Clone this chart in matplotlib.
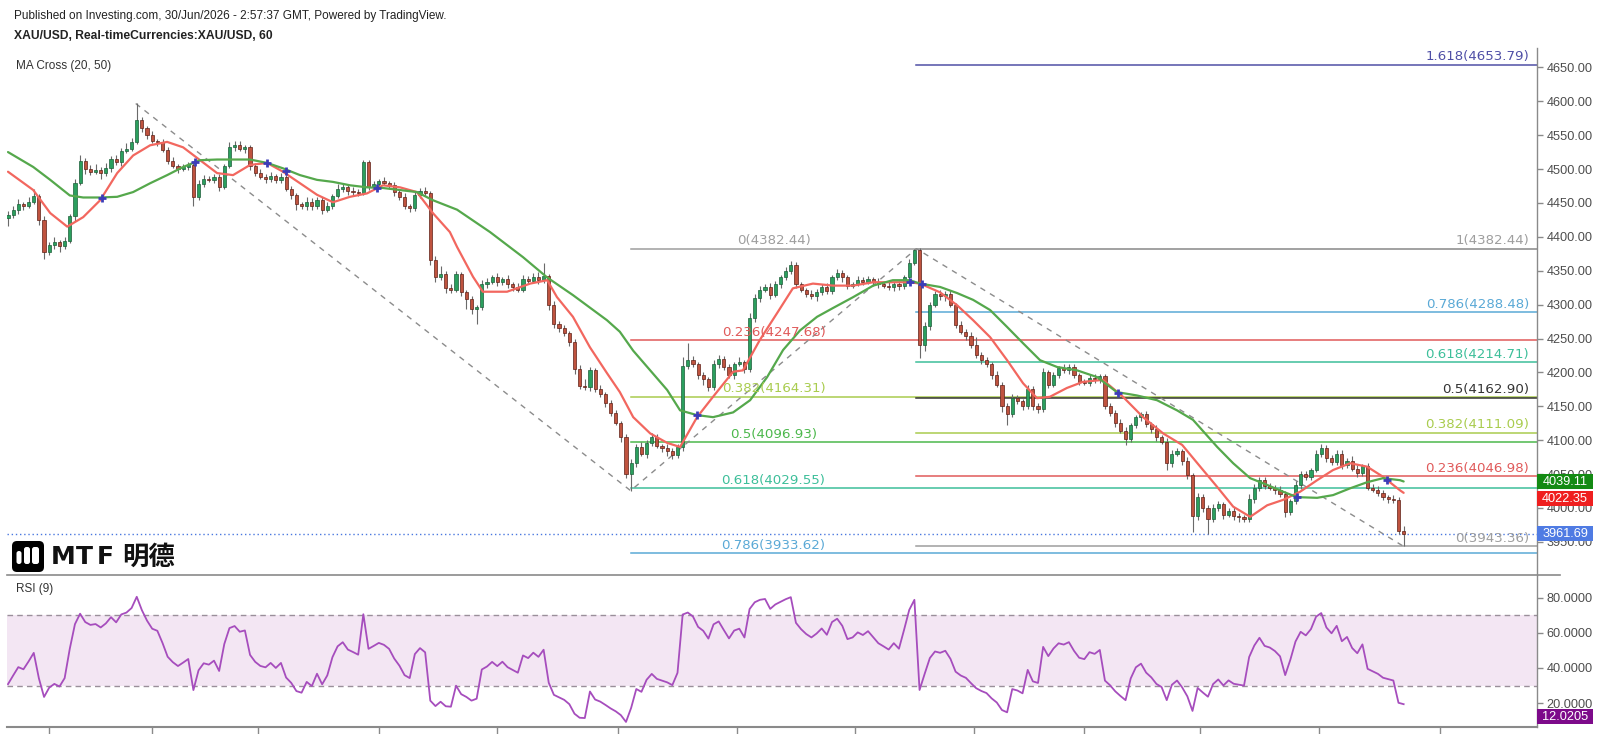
import numpy as np
import matplotlib
matplotlib.use("Agg")
import matplotlib.pyplot as plt
from matplotlib.patches import Rectangle, FancyBboxPatch
from matplotlib.transforms import blended_transform_factory

# ---------------- data (hourly XAU/USD) ----------------
closes = [
    4432, 4440, 4448, 4445, 4452, 4460, 4425, 4378, 4388, 4392, 4386, 4394, 4430, 4480, 4512, 4500, 4496, 4498, 4494, 4502,
    4515, 4510, 4526, 4530, 4540, 4572, 4560, 4550, 4542, 4540, 4528, 4512, 4505, 4500, 4503, 4506, 4458, 4478, 4486, 4484,
    4488, 4474, 4505, 4532, 4536, 4530, 4532, 4504, 4494, 4488, 4486, 4490, 4484, 4488, 4470, 4462, 4448, 4445, 4452, 4446,
    4454, 4440, 4446, 4460, 4470, 4474, 4468, 4466, 4464, 4510, 4474, 4478, 4482, 4480, 4476, 4466, 4458, 4446, 4442, 4462,
    4468, 4464, 4366, 4340, 4345, 4324, 4322, 4345, 4318, 4308, 4294, 4296, 4330, 4334, 4340, 4333, 4338, 4330, 4326, 4322,
    4338, 4335, 4340, 4336, 4342, 4300, 4272, 4265, 4258, 4245, 4205, 4180, 4178, 4203, 4176, 4168, 4155, 4140, 4126, 4105,
    4050, 4066, 4090, 4080, 4096, 4104, 4092, 4088, 4084, 4078, 4090, 4210, 4218, 4212, 4196, 4190, 4178, 4212, 4220, 4208,
    4196, 4212, 4216, 4205, 4280, 4310, 4322, 4326, 4314, 4330, 4340, 4350, 4358, 4330, 4322, 4316, 4312, 4318, 4326, 4320,
    4340, 4346, 4340, 4328, 4330, 4336, 4334, 4338, 4334, 4330, 4328, 4326, 4330, 4327, 4340, 4362, 4380, 4240, 4268, 4300,
    4315, 4312, 4316, 4300, 4270, 4260, 4254, 4240, 4226, 4218, 4212, 4196, 4182, 4150, 4138, 4162, 4158, 4150, 4176, 4150,
    4146, 4200, 4182, 4196, 4206, 4204, 4208, 4196, 4186, 4184, 4192, 4190, 4194, 4150, 4140, 4126, 4114, 4102, 4122, 4134,
    4138, 4124, 4116, 4104, 4098, 4066, 4080, 4084, 4070, 4048, 3988, 4016, 4000, 3984, 4000, 4006, 3990, 3996, 3988, 3986,
    3984, 4014, 4030, 4042, 4032, 4030, 4026, 4020, 3994, 4010, 4034, 4050, 4046, 4056, 4080, 4088, 4074, 4068, 4080, 4064,
    4070, 4058, 4052, 4062, 4030, 4026, 4022, 4016, 4014, 4012, 3966, 3961.69,
]
first_open = 4428.0
wick_up = [
    6, 5, 8, 4, 6, 10, 3, 6, 5, 7, 4, 6, 3, 5, 8, 4, 6, 9, 5, 7,
    4, 6, 5, 8, 6, 25, 5, 4, 6, 3, 5, 4, 6, 3, 5, 4, 3, 6, 5, 4,
    5, 4, 3, 8, 6, 5, 4, 3, 5, 6, 4, 5, 3, 6, 4, 5, 3, 4, 6, 5,
    4, 5, 6, 3, 8, 5, 4, 6, 5, 4, 3, 5, 4, 6, 3, 5, 4, 6, 3, 5,
    4, 6, 3, 5, 12, 4, 6, 5, 3, 4, 5, 3, 6, 5, 4, 6, 3, 5, 4, 6,
    5, 4, 6, 8, 20, 3, 6, 4, 5, 3, 4, 6, 10, 5, 4, 6, 3, 5, 4, 3,
    4, 6, 5, 8, 4, 6, 5, 3, 6, 4, 5, 12, 25, 6, 4, 5, 3, 6, 5, 4,
    5, 4, 6, 3, 8, 6, 5, 4, 6, 5, 4, 6, 7, 5, 4, 3, 6, 5, 4, 6,
    4, 6, 5, 3, 4, 6, 5, 4, 3, 5, 4, 6, 3, 5, 4, 6, 2.4, 3, 6, 4,
    5, 6, 4, 5, 3, 6, 4, 5, 12, 4, 5, 3, 6, 4, 5, 6, 4, 3, 5, 4,
    5, 6, 4, 5, 3, 6, 4, 5, 3, 4, 6, 5, 4, 3, 5, 4, 6, 5, 4, 3,
    4, 5, 3, 6, 4, 5, 6, 4, 3, 5, 4, 6, 5, 4, 6, 5, 3, 4, 6, 5,
    4, 6, 5, 4, 3, 5, 4, 6, 5, 4, 6, 5, 4, 3, 6, 7, 5, 4, 6, 5,
    4, 6, 5, 3, 4, 5, 6, 4, 3, 5, 4, 8,
]
wick_dn = [
    12, 4, 6, 5, 3, 4, 8, 10, 5, 6, 8, 4, 3, 6, 4, 7, 5, 4, 8, 5,
    6, 4, 5, 3, 4, 3, 6, 5, 4, 6, 3, 5, 4, 6, 3, 5, 12, 4, 5, 3,
    4, 6, 3, 4, 5, 3, 6, 5, 4, 3, 6, 5, 4, 5, 3, 6, 8, 4, 5, 6,
    5, 6, 4, 5, 3, 4, 6, 5, 4, 3, 5, 4, 6, 3, 5, 6, 4, 5, 6, 4,
    5, 4, 8, 6, 4, 7, 5, 4, 6, 14, 8, 22, 4, 5, 3, 6, 4, 5, 6, 4,
    4, 5, 3, 6, 4, 8, 6, 5, 4, 6, 8, 5, 4, 6, 5, 4, 6, 5, 4, 8,
    6, 24.4, 5, 4, 6, 5, 3, 6, 8, 5, 4, 6, 5, 4, 6, 8, 5, 4, 6, 5,
    4, 5, 3, 6, 4, 5, 6, 4, 5, 3, 6, 4, 5, 6, 4, 5, 3, 6, 4, 5,
    5, 4, 6, 5, 4, 3, 5, 4, 6, 5, 3, 4, 6, 5, 4, 3, 4, 19, 8, 5,
    4, 5, 6, 4, 5, 3, 6, 4, 5, 6, 4, 5, 3, 8, 16, 4, 5, 6, 4, 5,
    6, 4, 5, 3, 4, 5, 6, 4, 5, 3, 4, 5, 6, 4, 5, 6, 4, 9, 5, 4,
    5, 4, 6, 5, 4, 10, 5, 4, 6, 5, 23, 5, 6, 22, 4, 5, 6, 4, 5, 6,
    5, 4, 6, 5, 4, 3, 5, 4, 8, 5, 4, 6, 5, 4, 3, 5, 6, 4, 5, 6,
    5, 4, 6, 5, 4, 3, 5, 4, 6, 5, 4, 18.33,
]

# moving averages (bar position, value)
ma20_idx = [0, 4.9, 8.2, 11.5, 14.6, 17.9, 21.2, 24.3, 27.6, 30.9, 34.0, 37.3, 40.6, 43.7, 47.0, 50.3, 53.4, 56.7, 60.0, 63.1,
            66.4, 69.7, 72.8, 76.1, 79.4, 82.5, 85.8, 87.2, 90.3, 92.2, 96.9, 101.4, 104.7, 106.6, 109.7, 113.0, 116.3, 118.8, 121.4, 124.7,
            128.0, 130.5, 133.8, 136.9, 140.8, 142.7, 146.0, 149.3, 152.4, 156.3, 160.2, 164.1, 168.0, 171.8, 175.1, 177.1, 181.0, 184.3, 187.4, 190.7,
            194.0, 197.1, 199.8, 202.3, 205.6, 208.7, 212.6, 216.5, 220.4, 224.3, 228.0, 231.5, 234.8, 237.9, 241.2, 244.5, 247.6, 250.9, 254.2, 257.3,
            260.6, 263.9, 267.0, 270.3, 271.0]
ma20_val = [4496, 4469, 4435, 4415, 4429, 4454, 4494, 4520, 4535, 4540, 4532, 4513, 4494, 4491, 4506, 4509, 4496, 4479, 4462, 4451,
            4459, 4464, 4476, 4473, 4466, 4435, 4407, 4385, 4341, 4319, 4319, 4331, 4336, 4311, 4282, 4237, 4199, 4171, 4134, 4110,
            4096, 4090, 4134, 4164, 4201, 4203, 4248, 4287, 4324, 4331, 4328, 4328, 4333, 4333, 4333, 4331, 4318, 4299, 4277, 4252,
            4218, 4184, 4162, 4164, 4177, 4186, 4189, 4164, 4134, 4110, 4093, 4061, 4031, 4002, 3987, 4004, 4012, 4024, 4041, 4056,
            4066, 4061, 4046, 4026, 4022.35]
ma50_idx = [0, 4.9, 8.2, 12.0, 14.6, 17.9, 21.2, 24.3, 27.6, 30.9, 34.0, 37.3, 40.6, 43.7, 47.0, 50.3, 53.4, 56.7, 60.0, 63.1,
            66.4, 69.7, 72.8, 76.1, 79.4, 82.5, 87.2, 93.6, 100.0, 104.7, 109.7, 116.3, 118.8, 121.4, 124.7, 128.0, 130.5, 133.8, 136.9, 140.8,
            144.1, 147.4, 150.5, 153.8, 157.1, 160.2, 164.1, 168.0, 171.8, 175.1, 177.1, 181.0, 184.3, 187.4, 190.7, 194.0, 197.1, 200.4, 203.7, 207.6,
            211.5, 215.3, 219.2, 223.1, 227.0, 230.1, 234.8, 237.9, 241.2, 244.5, 247.6, 250.3, 254.2, 257.3, 260.6, 263.9, 267.0, 270.3, 271.0]
ma50_val = [4525, 4503, 4484, 4461, 4458, 4458, 4459, 4466, 4479, 4491, 4503, 4513, 4514, 4514, 4514, 4509, 4501, 4491, 4484, 4481,
            4476, 4473, 4472, 4469, 4466, 4454, 4440, 4407, 4370, 4340, 4314, 4277, 4260, 4232, 4203, 4174, 4144, 4137, 4134, 4141,
            4159, 4193, 4233, 4262, 4282, 4295, 4311, 4328, 4336, 4336, 4331, 4326, 4317, 4307, 4292, 4267, 4243, 4218, 4208, 4203,
            4193, 4171, 4166, 4159, 4144, 4130, 4090, 4066, 4044, 4034, 4024, 4016, 4015, 4019, 4029, 4038, 4044, 4041, 4039.11]
cross_idx = [18.3, 36.3, 50.3, 54.0, 71.7, 133.8, 175.1, 177.5, 215.5, 250.3, 267.8]
cross_val = [4457, 4510, 4509, 4497, 4472, 4137, 4333, 4331, 4169, 4016, 4041]

# swing points used by the drawings (bar position, price)
swing_idx = [24.8, 120.9, 176.4, 271.0]
swing_val = [4596.59, 4025.57, 4382.44, 3943.36]
left_fib_ratios = [0, 0.236, 0.382, 0.5, 0.618, 0.786]
right_fib_ratios = [0, 0.236, 0.382, 0.5, 0.618, 0.786, 1, 1.618]

price_ticks = [3950, 4000, 4050, 4100, 4150, 4200, 4250, 4300, 4350, 4400, 4450, 4500, 4550, 4600, 4650]
rsi_ticks = [20, 40, 60, 80]
day_ticks = [8, 28, 48.5, 72, 95, 118.5, 141.5, 164.5, 187.5, 209, 231.5, 254.5, 278]

ma50_last = 4039.11
ma20_last = 4022.35
last_close = 3961.69
rsi_last = 12.0205
rsi_period = 9
rsi_seed_gain, rsi_seed_loss = 4.0, 9.0   # estimated state before the first bar

# ---------------- derived ----------------
c = np.array(closes, float)
o = np.array([first_open] + closes[:-1], float)
hi = np.maximum(o, c) + np.array(wick_up, float)
lo = np.minimum(o, c) - np.array(wick_dn, float)
n = len(c)
idx = np.arange(n)

rsi = np.empty(n)
ag, al = rsi_seed_gain, rsi_seed_loss
rsi[0] = 100 - 100 / (1 + ag / al)
for i in range(1, n):
    d = c[i] - c[i - 1]
    ag = (ag * (rsi_period - 1) + max(d, 0)) / rsi_period
    al = (al * (rsi_period - 1) + max(-d, 0)) / rsi_period
    rsi[i] = 100 - 100 / (1 + ag / al) if al > 0 else 100

# ---------------- layout ----------------
W, H = 1600, 734
L, R = 7, 1537
TOP, SEP, BOT = 48, 574.5, 727
BAR0, BARPX = 8, 5.15

fig = plt.figure(figsize=(W / 100, H / 100), dpi=100)
fig.patch.set_facecolor("white")
ax = fig.add_axes([L / W, 1 - SEP / H, (R - L) / W, (SEP - TOP) / H])
ax2 = fig.add_axes([L / W, 1 - BOT / H, (R - L) / W, (BOT - SEP) / H], sharex=ax)

xlim = ((L - BAR0) / BARPX, (R - BAR0) / BARPX)
ax.set_xlim(*xlim)
ax.set_ylim(3901.9, 4678.5)
ax2.set_ylim(6.3, 93.4)

AXC = "#8a8a8a"
LBL = "#4d4d4d"
for a in (ax, ax2):
    for s in ("top", "left", "bottom"):
        a.spines[s].set_visible(False)
    a.spines["right"].set_color(AXC)
    a.spines["right"].set_linewidth(1.0)
    a.yaxis.tick_right()
    a.tick_params(axis="y", direction="out", length=4, width=1, color=AXC,
                  labelcolor=LBL, labelsize=9.2, pad=3)
ax2.spines["bottom"].set_visible(True)
ax2.spines["bottom"].set_color(AXC)
ax2.spines["bottom"].set_linewidth(1.5)

ax.set_yticks(price_ticks)
ax.set_yticklabels([f"{v:.2f}" for v in price_ticks], family="Liberation Sans")
ax.tick_params(axis="x", bottom=False, labelbottom=False)
ax2.set_yticks(rsi_ticks)
ax2.set_yticklabels([f"{v:.4f}" for v in rsi_ticks], family="Liberation Sans")
ax2.set_xticks(day_ticks)
ax2.tick_params(axis="x", direction="out", length=5, width=1, color=AXC, labelbottom=False)

# ---------------- fibonacci drawings ----------------
A, B, C, D = swing_val
fib_col_left = {0: "#9e9e9e", 0.236: "#e05a5a", 0.382: "#a9cc4e", 0.5: "#4cb84c",
                0.618: "#3dbf9a", 0.786: "#5aa9d6"}
fib_col_right = {0: "#9e9e9e", 0.236: "#e05a5a", 0.382: "#a9cc4e", 0.5: "#333333",
                 0.618: "#3dbf9a", 0.786: "#5aa9d6", 1: "#9e9e9e", 1.618: "#4f4fa6"}
fib_font = dict(family="DejaVu Sans", fontsize=9.6)
bt = blended_transform_factory(ax.transAxes, ax.transData)
xmid = (swing_idx[1] + swing_idx[2]) / 2
for r in left_fib_ratios:
    lvl = C - r * (A - B)
    col = fib_col_left[r]
    ax.plot([swing_idx[1], xlim[1]], [lvl, lvl], color=col, lw=1.1, zorder=1)
    ax.annotate(f"{r:g}({lvl:.2f})", (xmid, lvl), xytext=(0, 1), textcoords="offset points",
                ha="center", va="bottom", color=col, zorder=7, **fib_font)
for r in right_fib_ratios:
    lvl = D + r * (C - D)
    col = fib_col_right[r]
    ax.plot([swing_idx[2], xlim[1]], [lvl, lvl], color=col, lw=1.1, zorder=1)
    ax.annotate(f"{r:g}({lvl:.2f})", (1 - 8 / (R - L), lvl), xycoords=bt, xytext=(0, 1),
                textcoords="offset points", ha="right", va="bottom", color=col, zorder=7, **fib_font)

ax.plot(swing_idx, swing_val, color="#8c8c8c", lw=1.0, ls=(0, (4, 4)), zorder=2)
ax.axhline(last_close, color="#4a78e0", lw=1.0, ls=(0, (1, 2)), zorder=2)

# ---------------- candles ----------------
up = c >= o
ax.vlines(idx, lo, hi, color="#6a6a6a", lw=0.8, zorder=3)
ax.bar(idx[up], np.maximum(c - o, 0.6)[up], bottom=o[up], width=0.62, color="#2b9f5e",
       edgecolor="#1d5e39", lw=0.5, zorder=4)
ax.bar(idx[~up], np.maximum(o - c, 0.6)[~up], bottom=c[~up], width=0.62, color="#bf533f",
       edgecolor="#5e2017", lw=0.5, zorder=4)

ax.plot(ma20_idx, ma20_val, color="#f2675f", lw=1.6, zorder=5, solid_capstyle="round")
ax.plot(ma50_idx, ma50_val, color="#55a84c", lw=1.6, zorder=5, solid_capstyle="round")
ax.plot(cross_idx, cross_val, "+", ms=6, mew=2, color="#3d3db8", zorder=6)

# ---------------- RSI ----------------
ax2.axhspan(30, 70, color="#f3e6f3", zorder=0, lw=0)
for lv in (70, 30):
    ax2.axhline(lv, color="#9a8f9a", lw=1.0, ls=(0, (4, 3)), zorder=1)
ax2.plot(idx, rsi, color="#a64dbd", lw=1.3, zorder=3)

# ---------------- overlay: titles, tags, logo ----------------
ov = fig.add_axes([0, 0, 1, 1], zorder=10)
ov.set_xlim(0, W)
ov.set_ylim(H, 0)
ov.axis("off")


def ypix(a, v):
    return H - a.transData.transform((0, v))[1]


sans = "Liberation Sans"
ov.text(14, 15.5, "Published on Investing.com, 30/Jun/2026 - 2:57:37 GMT, Powered by TradingView.",
        family=sans, fontsize=8.5, color="#222222", va="center")
ov.text(14, 36, "XAU/USD, Real-timeCurrencies:XAU/USD, 60", family=sans, fontsize=8.7,
        fontweight="bold", color="#222222", va="center")
ov.text(16, 65.5, "MA Cross (20, 50)", family=sans, fontsize=8.5, color="#333333", va="center")
ov.text(16, 589, "RSI (9)", family=sans, fontsize=8.5, color="#333333", va="center")
ov.plot([L, 1560], [SEP, SEP], color="#8a8a8a", lw=1.2)

# price tags on the scale, pushed apart so they do not overlap
TAG_H, TAG_GAP = 15, 17
tags = [(ax, ma50_last, f"{ma50_last:.2f}", "#138a13"),
        (ax, ma20_last, f"{ma20_last:.2f}", "#ef1f1f"),
        (ax, last_close, f"{last_close:.2f}", "#4f7be3"),
        (ax2, rsi_last, f"{rsi_last:.4f}", "#7d0a8a")]
placed = []
for a, v, s, col in sorted(tags, key=lambda t: ypix(t[0], t[1])):
    y = ypix(a, v)
    if placed and y - placed[-1] < TAG_GAP:
        y = placed[-1] + TAG_GAP
    placed.append(y)
    ov.add_patch(Rectangle((R, y - TAG_H / 2), 56, TAG_H, fc=col, ec="none"))
    ov.text(R + 28, y + 0.5, s, family=sans, fontsize=9.2, color="white", ha="center", va="center")

# logo
ov.add_patch(FancyBboxPatch((12, 541), 32, 31, boxstyle="round,pad=0,rounding_size=5", fc="black", ec="none"))
for bx, by, bw, bh in [(16.5, 551, 5, 13), (24, 547, 6, 17), (32, 547, 7, 17)]:
    ov.add_patch(FancyBboxPatch((bx, by), bw, bh, boxstyle="round,pad=0,rounding_size=2.4", fc="white", ec="none"))
for ch, lx in (("M", 51), ("T", 76), ("F", 97)):
    ov.text(lx, 557, ch, family="DejaVu Sans", fontsize=18, fontweight="bold", color="#111111", va="center")
ov.text(122, 557, "明德", family=["Noto Sans CJK SC", "DejaVu Sans"], fontsize=19, fontweight="bold",
        color="#111111", va="center")

fig.savefig("out.png", dpi=100, facecolor="white")
